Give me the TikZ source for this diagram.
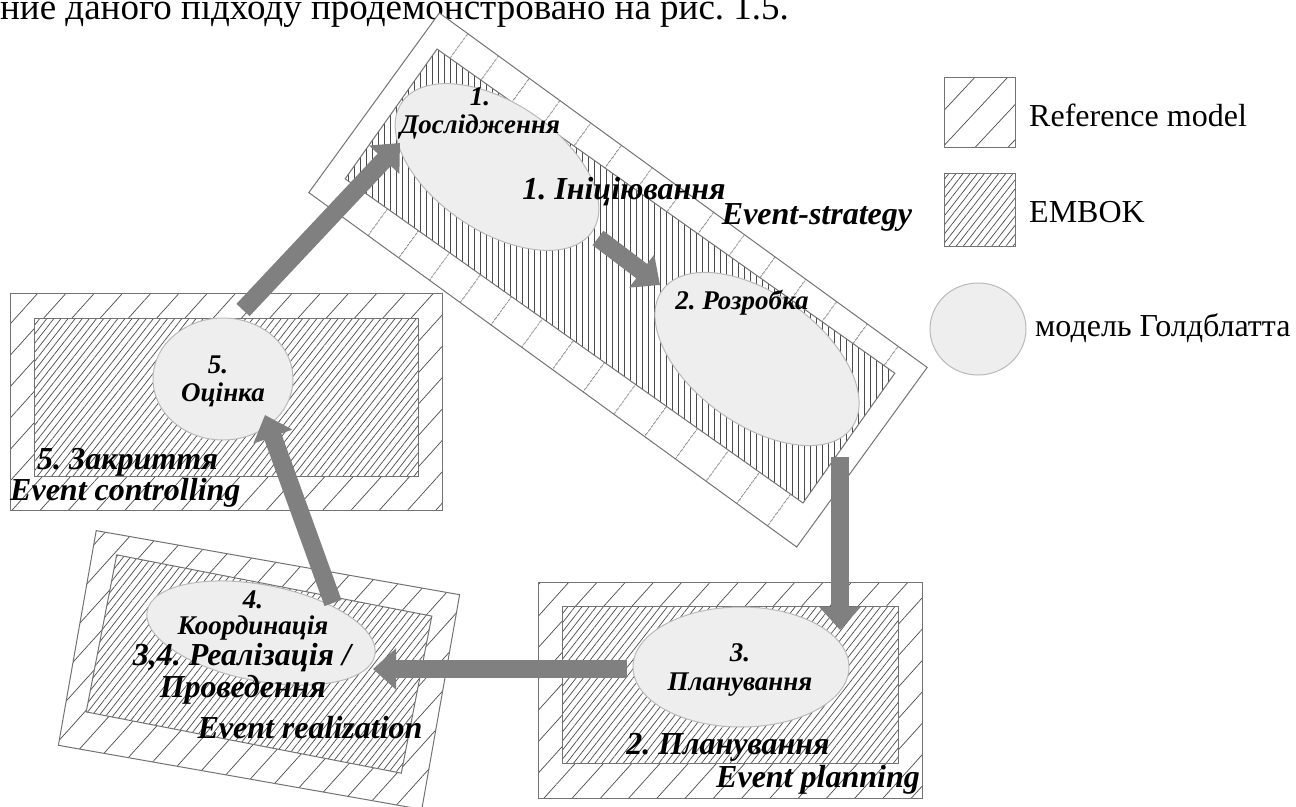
\documentclass[tikz,border=0pt]{standalone}
\usepackage{fontspec}
\setmainfont{Liberation Serif}
\frenchspacing
\usetikzlibrary{shapes.geometric,patterns.meta,arrows.meta}
\definecolor{framegray}{RGB}{115,115,115}
\definecolor{hatchgray}{RGB}{75,75,75}
\definecolor{ovalfill}{RGB}{238,238,238}
\definecolor{ovaldraw}{RGB}{185,185,185}
\definecolor{arrowgray}{RGB}{128,128,128}

\begin{document}
\begin{tikzpicture}[x=1pt,y=-1pt,
    refmodel/.style={draw=framegray,line width=1pt,inner sep=0pt,pattern color=hatchgray,
      preaction={fill=white},pattern={Lines[angle=48,distance=21pt,line width=.7pt]}},
    embok/.style={draw=framegray,line width=1pt,inner sep=0pt,pattern color=hatchgray,
      preaction={fill=white},pattern={Lines[angle=52,distance=5.6pt,line width=.7pt]}},
    goldblatt/.style={ellipse,draw=ovaldraw,fill=ovalfill,line width=1pt,inner sep=0pt},
    lbl/.style={font=\fontsize{32}{34}\selectfont\bfseries\itshape,inner sep=0pt},
    sublbl/.style={font=\fontsize{27}{29}\selectfont\bfseries\itshape,inner sep=0pt},
    keytext/.style={font=\fontsize{32}{34}\selectfont,anchor=west,inner sep=0pt},
    flow/.style={draw=arrowgray,line width=18pt,-{Triangle[length=23pt,width=40pt]}}]
    \useasboundingbox (0,0) rectangle (1296,806);

    \node[anchor=base west,inner sep=0pt,font=\fontsize{37}{40}\selectfont] (cut) at (0,19)
      {ние даного підходу продемонстровано на рис. 1.5.};

    \node[refmodel,rotate=-36,minimum width=603,minimum height=222,
      pattern={Lines[angle=54,distance=38pt,line width=.7pt]}] (strat) at (618,280) {};
    \node[embok,rotate=-35.3,minimum width=561,minimum height=159,
      pattern={Lines[angle=90,distance=6pt,line width=.7pt]}] (stratin) at (620,276) {};
    \node[refmodel,minimum width=432,minimum height=217] (ctrl) at (226,401.5) {};
    \node[embok,minimum width=384,minimum height=158] (ctrlin) at (226,397) {};
    \node[refmodel,minimum width=384,minimum height=216] (plan) at (730,690) {};
    \node[embok,minimum width=336,minimum height=157] (planin) at (730,684.5) {};
    \node[refmodel,rotate=-10,minimum width=369,minimum height=218] (real) at (259,670) {};
    \node[embok,rotate=-11,minimum width=321,minimum height=160] (realin) at (259,664) {};

    \node[goldblatt,rotate=-34,minimum width=230,minimum height=128] (e1) at (497,167) {};
    \node[goldblatt,rotate=-36,minimum width=234,minimum height=130] (e2) at (757,359) {};
    \node[goldblatt,minimum width=216,minimum height=120] (e3) at (741,667) {};
    \node[goldblatt,rotate=-11,minimum width=232,minimum height=96] (e4) at (261,633) {};
    \node[goldblatt,minimum width=140,minimum height=122] (e5) at (223,379) {};

    \node[sublbl] (t1a) at (480,97) {1.};
    \node[sublbl] (t1b) at (480,127) {Дослідження};
    \node[lbl] (t1c) at (624,192) {1. Ініціювання};
    \node[lbl] (t1d) at (817,217) {Event-strategy};
    \node[sublbl] (t2) at (742,303) {2. Розробка};
    \node[sublbl] (t3a) at (740,653) {3.};
    \node[sublbl] (t3b) at (740,685) {Планування};
    \node[lbl] (t3c) at (728,747) {2. Планування};
    \node[lbl] (t3d) at (818,780) {Event planning};
    \node[sublbl] (t4a) at (253,600) {4.};
    \node[sublbl] (t4b) at (253,628) {Координація};
    \node[lbl] (t4c) at (242,658) {3,4. Реалізація /};
    \node[lbl] (t4d) at (243,690) {Проведення};
    \node[lbl] (t4e) at (310,728) {Event realization};
    \node[sublbl] (t5a) at (218,365) {5.};
    \node[sublbl] (t5b) at (223,395) {Оцінка};
    \node[lbl,anchor=west] (t5c) at (37,462) {5. Закриття};
    \node[lbl,anchor=west] (t5d) at (10,493) {Event controlling};

    \node[refmodel,minimum width=71,minimum height=70,
      pattern={Lines[angle=47,distance=24pt,line width=.7pt]}] (keyref) at (980,112) {};
    \node[keytext] (keyreft) at (1029,115) {Reference model};
    \node[embok,minimum width=71,minimum height=73] (keyemb) at (980,210) {};
    \node[keytext] (keyembt) at (1029,212) {EMBOK};
    \node[goldblatt,minimum width=96,minimum height=92] (keygb) at (978,329) {};
    \node[keytext] (keygbt) at (1035,328) {модель Голдблатта};

    \coordinate (from5) at (243,310);
    \coordinate (to1) at (400,143);
    \coordinate (from1) at (598,238);
    \coordinate (to2) at (660,285);
    \coordinate (from2) at (840,457);
    \coordinate (to3) at (840,630);
    \coordinate (from3) at (627,669);
    \coordinate (to4) at (373,669);
    \coordinate (from4) at (333,603);
    \coordinate (to5) at (265,415);

    \draw[flow] (from5) -- (to1);
    \draw[flow] (from1) -- (to2);
    \draw[flow] (from2) -- (to3);
    \draw[flow] (from3) -- (to4);
    \draw[flow] (from4) -- (to5);
\end{tikzpicture}
\end{document}
